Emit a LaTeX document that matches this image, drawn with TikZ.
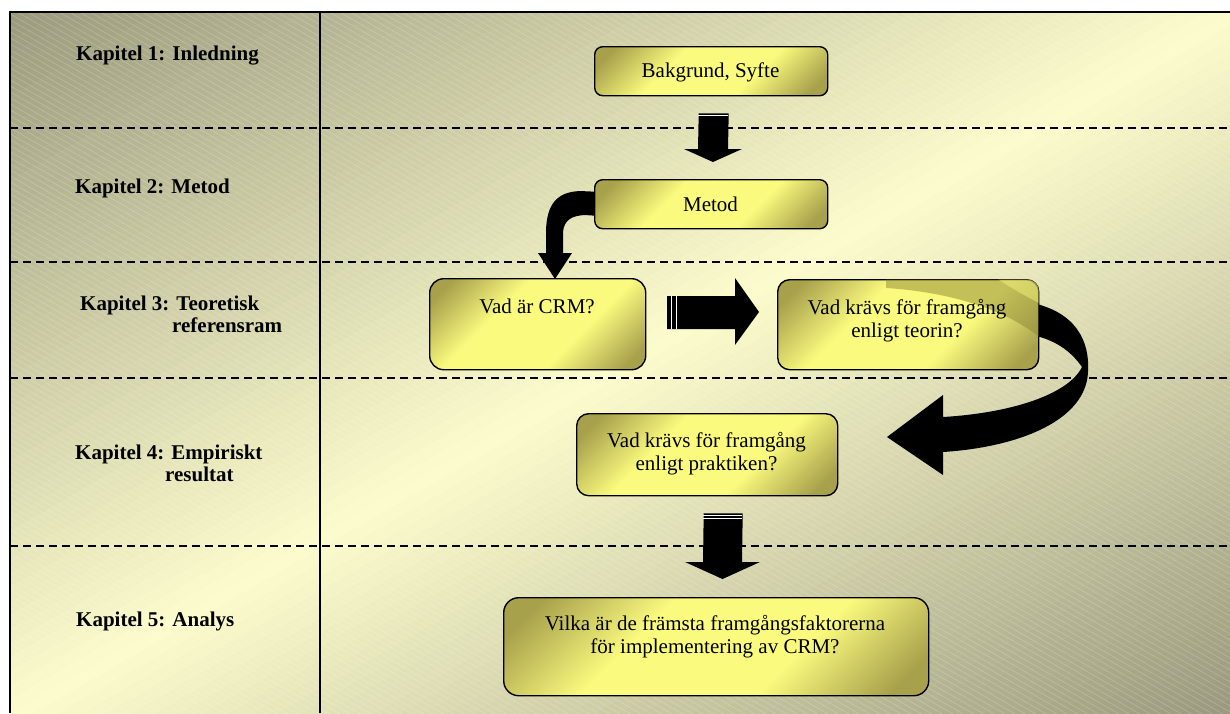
\documentclass[tikz,border=0pt]{standalone}
\usepackage{fontspec}
\setmainfont{Liberation Serif}
\usetikzlibrary{calc}

\definecolor{bgdark}{HTML}{9C9B7E}
\definecolor{bgdarkb}{HTML}{9A997D}
\definecolor{bglight}{HTML}{FCFCCC}
\definecolor{boxdark}{HTML}{A8A14C}
\definecolor{boxlight}{HTML}{FAFA7E}
\definecolor{swoosh}{HTML}{8E8838}

\pgfdeclareverticalshading{boxsheen}{100bp}{color(0bp)=(boxdark); color(20bp)=(boxdark);
  color(38bp)=(boxlight); color(62bp)=(boxlight); color(80bp)=(boxdark); color(100bp)=(boxdark)}

\pgfdeclarelayer{backdrop}
\pgfdeclarelayer{ribbons}
\pgfsetlayers{backdrop,ribbons,main}

\tikzset{
  chapter/.style={font=\fontsize{21}{23}\selectfont\bfseries, anchor=base west, inner sep=0pt},
  boxtext/.style={font=\fontsize{21}{22.5}\selectfont, inner sep=0pt, align=center},
  stagebox/.style={draw=black, line width=1.4pt, rounded corners=#1, anchor=north west,
    inner sep=0pt, shade, shading=boxsheen, shading angle=45},
  stagebox/.default=10pt,
  sepline/.style={line width=1.8pt, dash pattern=on 8pt off 5pt},
  frameline/.style={line width=1.8pt},
  hatch/.style={white, opacity=0.2, line width=0.7pt},
  blockarrow/.style={fill=black},
  stripe/.style={white, line width=1.2pt},
}

\begin{document}
\begin{tikzpicture}[x=1pt, y=-1pt]
\useasboundingbox (0,0) rectangle (1230,713);

\begin{pgfonlayer}{backdrop}
  \begin{scope}
    \clip (10,12) rectangle (1230,713);
    % diagonal gradient: dark in the top left and bottom right corners,
    % light along the diagonal from bottom left to top right
    \foreach \i in {0,...,99}{
      \pgfmathsetmacro\ua{\i/50}
      \pgfmathsetmacro\ub{(\i+1.6)/50}
      \pgfmathsetmacro\um{(\i+0.5)/50}
      \pgfmathtruncatemacro\p{\um<1 ? 100*\um : 100*(2-\um)}
      \ifnum\i<50 \colorlet{stripcol}{bglight!\p!bgdark}\else\colorlet{stripcol}{bglight!\p!bgdarkb}\fi
      \fill[stripcol] ({10+1220*(\ua/2-1)},{12+701*(\ua/2+1)})
        -- ({10+1220*(\ua/2+1)},{12+701*(\ua/2-1)})
        -- ({10+1220*(\ub/2+1)},{12+701*(\ub/2-1)})
        -- ({10+1220*(\ub/2-1)},{12+701*(\ub/2+1)}) -- cycle;
    }
    % fine hatching
    \foreach \c in {-700,-694,...,716}
      \draw[hatch] (0,\c) -- (1230,\c+710);
  \end{scope}

  % chapter separators and frame
  \foreach \y in {128,262,378,546}
    \draw[sepline] (10,\y) -- (1230,\y);
  \draw[frameline] (10,713) -- (10,12) -- (1230,12);
  \draw[frameline] (320,12) -- (320,713);
\end{pgfonlayer}

% chapter labels
\node[chapter] (k1)  at (76,60)  {Kapitel 1: Inledning};
\node[chapter] (k2)  at (75,193) {Kapitel 2: Metod};
\node[chapter] (k3)  at (80,310) {Kapitel 3: Teoretisk};
\node[chapter] (k3b) at (172,332) {referensram};
\node[chapter] (k4)  at (75,459) {Kapitel 4: Empiriskt};
\node[chapter] (k4b) at (165,481) {resultat};
\node[chapter] (k5)  at (76,626) {Kapitel 5: Analys};

% stage boxes
\node[stagebox=8pt,  minimum width=233pt, minimum height=49pt] (b1) at (594,46)  {};
\node[stagebox=8pt,  minimum width=233pt, minimum height=49pt] (b2) at (594,179) {};
\node[stagebox=14pt, minimum width=216pt, minimum height=91pt] (b3) at (429,278) {};
\node[stagebox=12pt, minimum width=261pt, minimum height=90pt] (b4) at (777,279) {};
\node[stagebox=12pt, minimum width=261pt, minimum height=82pt] (b5) at (576,413) {};
\node[stagebox=15pt, minimum width=425pt, minimum height=98pt] (b6) at (503,597) {};

\begin{pgfonlayer}{ribbons}
  % curved arrow from Metod down to "Vad är CRM?"
  \fill[blockarrow] ($(b2.west)+(1,-12.5)$) -- (580,191)
    .. controls (556,192) and (547,205) .. (546,230) -- (546,253) -- (538,253)
    -- (555,279) -- (572,253) -- (563,253) -- (563,232)
    .. controls (564,220) and (572,215.5) .. (585,215) -- ($(b2.west)+(1,11.5)$) -- cycle;

  % curved arrow from the theory box round to the practice box
  \fill[blockarrow] ($(b4.east)+(-8,-22)$)
    .. controls (1075,312) and (1090,340) .. (1088,372)
    .. controls (1086,420) and (1020,447) .. (943,452)
    -- (943,475) -- (887,437) -- (943,395) -- (943,417)
    .. controls (1010,413) and (1068,395) .. (1082,367)
    .. controls (1070,350) and (1055,340) .. ($(b4.east)+(-8,10)$) -- cycle;
\end{pgfonlayer}

% sheen across the top right of the theory box
\begin{scope}
  \clip[rounded corners=11pt] ($(b4.north west)+(0.7,0.7)$) rectangle ($(b4.south east)+(-0.7,-0.7)$);
  \fill[swoosh, opacity=0.5] (886,270) -- (886,288)
    .. controls (950,292) and (1010,310) .. (1045,342) -- (1045,270) -- cycle;
  \fill[boxlight, opacity=0.45] (985,270)
    .. controls (1005,285) and (1025,296) .. (1045,306) -- (1045,270) -- cycle;
\end{scope}

% straight block arrows
\fill[blockarrow] ($(b1.south)+(-12.5,17)$) -- ($(b1.south)+(17.5,17)$) -- (728,149) -- (742,149)
  -- (713,162) -- (684,149) -- (698,149) -- cycle;
\draw[stripe, line width=0.7pt] (698,115) -- (728,115);

\fill[blockarrow] (667,296) -- (735,296) -- (735,278) -- (759,312) -- (735,345)
  -- (735,329) -- (667,329) -- cycle;
\draw[stripe] (671.8,296) -- (671.8,329);
\draw[stripe] (676.8,296) -- (676.8,329);

\fill[blockarrow] ($(b5.south)+(-3.5,17)$) -- ($(b5.south)+(35.5,17)$) -- (742,562) -- (760,562)
  -- (722.5,579) -- (685,562) -- (703,562) -- cycle;
\draw[stripe, line width=0.8pt] (703,515) -- (742,515);
\draw[stripe, line width=0.8pt] (703,518.5) -- (742,518.5);

% box texts
\node[boxtext, anchor=base] (t1) at (710.5,77)  {Bakgrund, Syfte};
\node[boxtext, anchor=base] (t2) at (710.5,211) {Metod};
\node[boxtext, anchor=base] (t3) at (537,313)   {Vad är CRM?};
\node[boxtext, anchor=north] (t4) at (907,299.5) {Vad krävs för framgång\\enligt teorin?};
\node[boxtext, anchor=north] (t5) at (706.5,432.5) {Vad krävs för framgång\\enligt praktiken?};
\node[boxtext, anchor=north] (t6) at (715,615.5) {Vilka är de främsta framgångsfaktorerna\\för implementering av CRM?};
\end{tikzpicture}
\end{document}
